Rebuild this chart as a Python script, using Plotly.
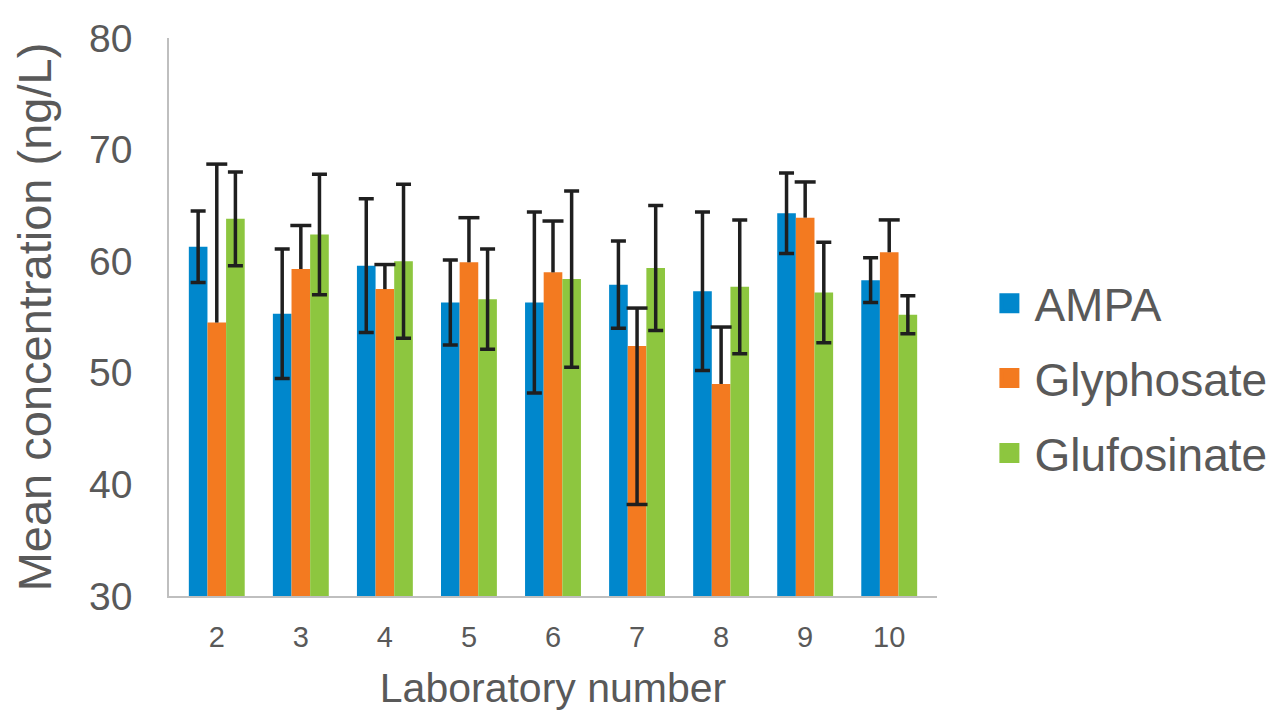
import plotly.graph_objects as go

labs = ["2", "3", "4", "5", "6", "7", "8", "9", "10"]

ampa = [61.3, 55.3, 59.6, 56.3, 56.3, 57.9, 57.3, 64.3, 58.3]
ampa_err = [3.2, 5.8, 6.0, 3.8, 8.1, 3.9, 7.1, 3.6, 2.0]

glyphosate = [54.5, 59.3, 57.5, 59.9, 59.0, 52.4, 49.0, 63.9, 60.8]
glyphosate_err_plus = [14.2, 3.9, 2.2, 4.0, 4.6, 3.4, 5.1, 3.2, 2.9]
glyphosate_err_minus = [0, 0, 0, 0, 0, 14.2, 0, 0, 0]

glufosinate = [63.8, 62.4, 60.0, 56.6, 58.4, 59.4, 57.7, 57.2, 55.2]
glufosinate_err = [4.2, 5.4, 6.9, 4.5, 7.9, 5.6, 6.0, 4.5, 1.7]

ERR_COL = "#1f1f1f"
ERR_W = 3.5

fig = go.Figure()

fig.add_trace(go.Bar(
    x=labs, y=ampa, name="AMPA", marker=dict(color="#0087CC", line=dict(width=0)),
    showlegend=False,
    error_y=dict(type="data", array=ampa_err, color=ERR_COL, thickness=ERR_W, width=7.5),
))
fig.add_trace(go.Bar(
    x=labs, y=glyphosate, name="Glyphosate", marker=dict(color="#F37A20", line=dict(width=0)),
    showlegend=False,
))
fig.add_trace(go.Bar(
    x=labs, y=glufosinate, name="Glufosinate", marker=dict(color="#8DC63F", line=dict(width=0)),
    showlegend=False,
    error_y=dict(type="data", array=glufosinate_err, color=ERR_COL, thickness=ERR_W, width=7.5),
))

# Glyphosate error bars (one-sided where the lower part is absent): middle bar sits at category centre
g_top = [v + p for v, p in zip(glyphosate, glyphosate_err_plus)]
g_span = [p + m for p, m in zip(glyphosate_err_plus, glyphosate_err_minus)]
fig.add_trace(go.Scatter(
    x=labs, y=g_top, mode="markers", showlegend=False, hoverinfo="skip",
    marker=dict(symbol="line-ew", size=15, line=dict(color=ERR_COL, width=ERR_W)),
    error_y=dict(type="data", symmetric=False, array=[0] * len(labs), arrayminus=g_span,
                 color=ERR_COL, thickness=ERR_W, width=0),
))
low_x = [l for l, m in zip(labs, glyphosate_err_minus) if m > 0]
low_y = [v - m for v, m in zip(glyphosate, glyphosate_err_minus) if m > 0]
fig.add_trace(go.Scatter(
    x=low_x, y=low_y, mode="markers", showlegend=False, hoverinfo="skip",
    marker=dict(symbol="line-ew", size=15, line=dict(color=ERR_COL, width=ERR_W)),
))

for name, col in [("AMPA", "#0087CC"), ("Glyphosate", "#F37A20"), ("Glufosinate", "#8DC63F")]:
    fig.add_trace(go.Scatter(
        x=[None], y=[None], name=name, mode="markers", legendgroup=name,
        marker=dict(symbol="square", size=16, color=col, line=dict(color=col, width=4)),
    ))

fig.update_layout(
    width=1278, height=707,
    margin=dict(l=161, r=349, t=30, b=119),
    paper_bgcolor="white", plot_bgcolor="white",
    barmode="group", bargap=0.335, bargroupgap=0,
    font=dict(family="Liberation Sans, Arial, sans-serif", color="#595959"),
    legend=dict(x=0.764, xref="container", y=0.39, xanchor="left", yanchor="middle",
                font=dict(size=46, color="#595959"), tracegroupgap=12,
                itemsizing="trace", itemwidth=40),
    xaxis=dict(
        type="category", showline=True, linecolor="#BFBFBF", linewidth=1.5,
        showgrid=False, ticks="", tickfont=dict(size=29, color="#595959"),
        ticklabelstandoff=14, automargin=False,
        title=dict(text="Laboratory number", font=dict(size=41, color="#595959"), standoff=22),
    ),
    yaxis=dict(
        range=[30, 80], dtick=10, showline=True, linecolor="#BFBFBF", linewidth=1.5,
        showgrid=False, zeroline=False, ticks="", tickfont=dict(size=39, color="#595959"),
        ticklabelstandoff=27, automargin=False,
        title=dict(text="Mean concentration (ng/L)", font=dict(size=47, color="#595959"), standoff=30),
    ),
)

fig.write_html("out.html")
